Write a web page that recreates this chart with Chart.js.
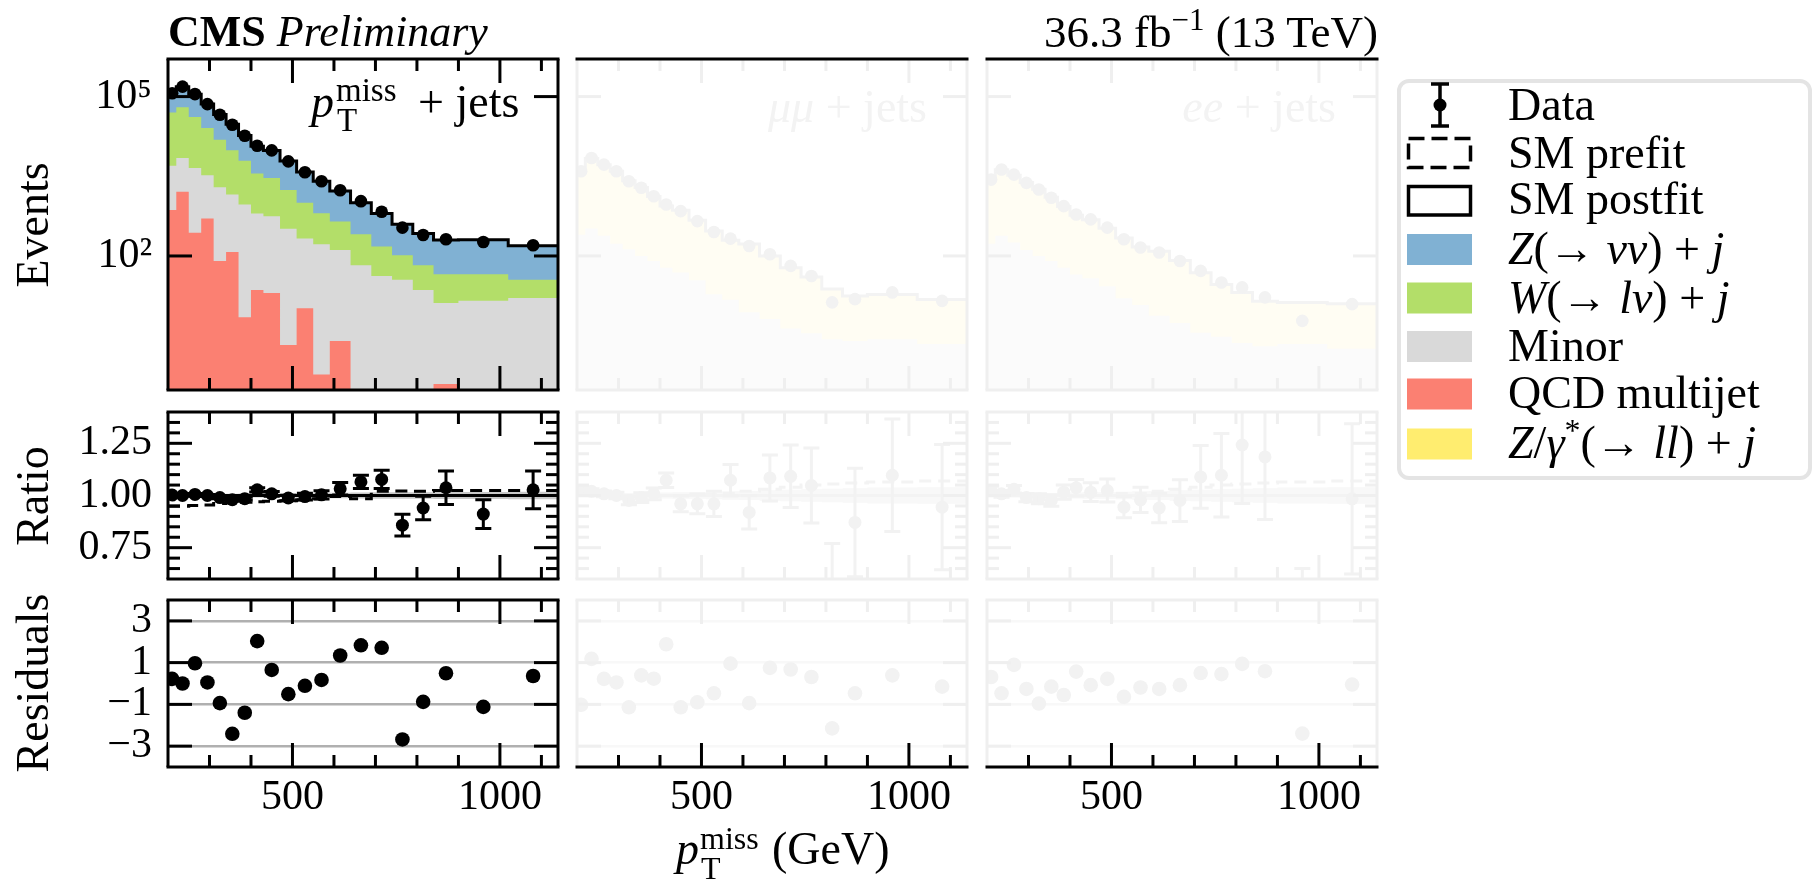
<!DOCTYPE html>
<html>
<head>
<meta charset="utf-8">
<title>pTmiss fit</title>
<script src="https://cdn.jsdelivr.net/npm/chart.js@4.4.1/dist/chart.umd.min.js"></script>
<style>
  html, body { margin: 0; padding: 0; background: #fff; }
  body { position: relative; width: 1818px; height: 884px; overflow: hidden; font-family: 'Liberation Serif', serif; }
  canvas { position: absolute; }
  .t { position: absolute; white-space: nowrap; line-height: 0; color: #000; }
  .v { position: absolute; white-space: nowrap; line-height: 1; transform: translate(-50%, -50%) rotate(-90deg); }
  .up { position: relative; }
  #legend { position: absolute; left: 1397px; top: 79px; width: 415px; height: 401px; box-sizing: border-box;
            border: 4px solid #e4e4e4; border-radius: 12px; background: #fff; }
</style>
</head>
<body>
<div id="legend"></div>
<svg width="1818" height="884" style="position:absolute;left:0;top:0">
  <g stroke="#000" stroke-width="3.5">
    <line x1="1440" y1="84" x2="1440" y2="126"/>
    <line x1="1431" y1="84" x2="1449" y2="84"/>
    <line x1="1431" y1="126" x2="1449" y2="126"/>
  </g>
  <circle cx="1440" cy="105" r="6.5" fill="#000"/>
  <rect x="1408.5" y="138.5" width="62" height="29" fill="none" stroke="#000" stroke-width="3.5" stroke-dasharray="16 7"/>
  <rect x="1408.5" y="186.5" width="62" height="28.5" fill="none" stroke="#000" stroke-width="3.5"/>
  <rect x="1407" y="234" width="65" height="31" fill="#80b1d3"/>
  <rect x="1407" y="282.5" width="65" height="31" fill="#b3de69"/>
  <rect x="1407" y="331" width="65" height="31" fill="#d9d9d9"/>
  <rect x="1407" y="378.5" width="65" height="31" fill="#fb8072"/>
  <rect x="1407" y="428.5" width="65" height="31" fill="#ffed6f"/>
</svg>
<script>
// pTmiss bin edges (GeV)
const edges = [200, 220, 250, 280, 310, 340, 370, 400, 430, 470, 510, 550, 590, 640, 690, 740, 790, 840, 900, 1020, 1140];

// pTmiss + jets region, postfit yields
const qcd    = [730, 1610, 275, 510, 80, 119, 7.0, 23, 20, 2.1, 10.4, 0.59, 2.5, 0, 0, 0, 0, 0.39, 0, 0];
const minor  = [4280, 5390, 4275, 2790, 1890, 1316, 924, 609, 542, 325, 202, 165, 127, 67, 42, 35.5, 23, 12.6, 14.3, 16.1];
const wlnu   = [45100, 56300, 36550, 22250, 13450, 8285, 5300, 2923, 2388, 1416, 791, 474, 318, 188, 108, 67.5, 44, 32.4, 31.1, 19.4];
const znunu  = [65800, 90700, 69900, 46750, 30440, 20380, 12370, 8035, 6690, 4377, 2787, 1910, 1228, 754, 481, 294, 197, 154, 156, 120];
const dataSR = [115900, 154000, 111500, 72100, 45400, 29500, 18300, 11900, 9720, 6040, 3760, 2550, 1730, 1075, 680, 341, 248, 206, 183, 159];
const ratioSR    = [1.002, 1.0, 1.005, 1.0, 0.99, 0.98, 0.985, 1.027, 1.008, 0.988, 0.995, 1.003, 1.032, 1.065, 1.077, 0.858, 0.94, 1.037, 0.911, 1.027];
const ratioErrSR = [0.004, 0.004, 0.004, 0.005, 0.006, 0.007, 0.008, 0.01, 0.011, 0.013, 0.016, 0.02, 0.03, 0.032, 0.044, 0.052, 0.056, 0.08, 0.069, 0.09];
const prefitSR   = [0.948, 0.948, 0.952, 0.955, 0.962, 0.966, 0.968, 0.97, 0.972, 0.975, 0.98, 0.985, 0.995, 0.985, 1.02, 1.022, 1.02, 1.024, 1.024, 1.024];
const bandSR     = [0.008, 0.008, 0.008, 0.008, 0.008, 0.008, 0.009, 0.009, 0.01, 0.01, 0.011, 0.012, 0.013, 0.014, 0.015, 0.016, 0.016, 0.017, 0.017, 0.018];
const residSR    = [0.22, 0.0, 0.97, 0.05, -0.94, -2.41, -1.40, 2.03, 0.65, -0.51, -0.11, 0.17, 1.34, 1.83, 1.71, -2.68, -0.88, 0.49, -1.12, 0.36];

// mumu + jets region
const minorMM    = [250, 330, 240, 170, 134, 100, 80, 60, 49, 35, 19, 15, 8.7, 6.5, 4.3, 3.5, 2.7, 2.5, 2.7, 2.2];
const zllMM      = [3590, 6530, 4960, 3760, 2476, 1840, 1240, 808, 678, 437, 275, 183, 159, 93.5, 55.7, 36.5, 21.3, 15.2, 16.1, 12.9];
const dataMM     = [3930, 7000, 5240, 3930, 2550, 1920, 1330, 931, 698, 453, 282, 212, 154, 108, 65, 42, 13.4, 15.4, 20.6, 14.3];
const ratioMM    = [1.024, 1.02, 1.008, 1.0, 0.976, 0.99, 1.008, 1.073, 0.96, 0.96, 0.96, 1.073, 0.919, 1.084, 1.092, 1.048, 0.55, 0.871, 1.097, 0.944];
const ratioErrMM = [0.016, 0.012, 0.014, 0.016, 0.02, 0.023, 0.028, 0.035, 0.038, 0.047, 0.06, 0.075, 0.08, 0.11, 0.15, 0.18, 0.22, 0.26, 0.27, 0.3];
const prefitMM   = [1.01, 1.01, 1.0, 1.0, 0.995, 0.995, 0.995, 1.0, 1.0, 1.0, 1.005, 1.01, 1.02, 1.03, 1.04, 1.05, 1.055, 1.06, 1.065, 1.07];
const residMM    = [-1.02, 1.18, 0.22, 0.05, -1.14, 0.39, 0.23, 1.88, -1.14, -0.9, -0.47, 0.95, -0.94, 0.75, 0.67, 0.31, -2.15, -0.47, 0.39, -0.15];

// ee + jets region
const minorEE    = [170, 240, 180, 130, 100, 80, 60, 45, 38, 27, 16, 12, 7.5, 5.5, 3.6, 3, 2.3, 2, 2.2, 1.8];
const zllEE      = [2506, 3956, 3120, 2274, 1709, 1196, 792, 538, 442, 306, 202, 135, 115.5, 77, 44.5, 25.9, 18.3, 12, 11.1, 10.8];
const dataEE     = [2740, 4230, 3400, 2380, 1780, 1245, 866, 605, 488, 341, 206, 144, 116, 80.5, 52.4, 31.7, 25.6, 16.6, 6.0, 12.4];
const ratioEE    = [1.024, 1.008, 1.03, 0.99, 0.984, 0.976, 1.016, 1.037, 1.016, 1.024, 0.944, 0.979, 0.94, 0.976, 1.089, 1.097, 1.242, 1.185, 0.45, 0.984];
const ratioErrEE = [0.02, 0.016, 0.018, 0.02, 0.024, 0.028, 0.034, 0.04, 0.045, 0.055, 0.05, 0.06, 0.07, 0.1, 0.15, 0.2, 0.28, 0.3, 0.2, 0.36];
const prefitEE   = [1.0, 1.0, 1.0, 0.995, 0.995, 1.0, 1.0, 1.0, 1.0, 1.0, 1.01, 1.01, 1.02, 1.03, 1.04, 1.05, 1.055, 1.06, 1.065, 1.07];
const residEE    = [0.31, -0.47, 0.89, -0.26, -0.96, -0.15, -0.55, 0.57, -0.08, 0.22, -0.64, -0.19, -0.26, -0.08, 0.5, 0.45, 0.94, 0.59, -2.4, -0.05];
const bandCR     = [0.01, 0.01, 0.01, 0.01, 0.012, 0.012, 0.013, 0.014, 0.015, 0.016, 0.018, 0.02, 0.022, 0.025, 0.028, 0.03, 0.032, 0.035, 0.038, 0.04];

// axis ticks
const xMajor = [500, 1000];
const xMinor = [300, 400, 600, 700, 800, 900, 1100];
const yTopMajor = [100, 100000];
const ratioMajor = [0.75, 1.0, 1.25];
const ratioMinor = [0.65, 0.7, 0.8, 0.85, 0.9, 0.95, 1.05, 1.1, 1.15, 1.2, 1.3, 1.35];
const residMajor = [-3, -1, 1, 3];

Chart.defaults.font.family = "'Liberation Serif', serif";
Chart.defaults.font.size = 42;
Chart.defaults.color = '#000';

const C = {z: '#80b1d3', w: '#b3de69', minor: '#d9d9d9', qcd: '#fb8072', zll: '#ffed6f'};
const FADE = {pt: '#f2f2f2', line: '#f3f3f3', zll: '#fffdf3', minor: '#fbfbfb', band: '#f8f8f8', grid: '#f8f8f8', spine: '#efefef'};

const COL_L = [168, 577, 987], PW = 390;
const ROW_T = [59, 412, 600], ROW_H = [331, 167, 167];
const PADL = 130, PADR = 12, PADT = 12, PADB = 70;

// spines and inward ticks
const framePlugin = {
  id: 'frame',
  afterDraw(chart, args, o) {
    if (!o || !o.side) return;
    const {ctx, chartArea: a} = chart;
    const x = chart.scales.x, y = chart.scales.y;
    ctx.save();
    ctx.lineWidth = 3;
    const seg = (x0, y0, x1, y1, c) => {
      ctx.strokeStyle = c; ctx.beginPath(); ctx.moveTo(x0, y0); ctx.lineTo(x1, y1); ctx.stroke();
    };
    xMajor.map(v => [v, 24]).concat(xMinor.map(v => [v, 12])).forEach(([v, len]) => {
      const p = x.getPixelForValue(v);
      seg(p, a.top, p, a.top + len, o.topTick);
      seg(p, a.bottom, p, a.bottom - len, o.bottomTick);
    });
    const yMin = o.yMinor || [];
    o.yMajor.map(v => [v, 24]).concat(yMin.map(v => [v, 12])).forEach(([v, len]) => {
      const p = y.getPixelForValue(v);
      seg(a.left, p, a.left + len, p, o.side);
      seg(a.right, p, a.right - len, p, o.side);
    });
    seg(a.left, a.top, a.left, a.bottom, o.side);
    seg(a.right, a.top, a.right, a.bottom, o.side);
    seg(a.left - 1.5, a.top, a.right + 1.5, a.top, o.top);
    seg(a.left - 1.5, a.bottom, a.right + 1.5, a.bottom, o.bottom);
    ctx.restore();
  }
};

// vertical error bars with caps
const errPlugin = {
  id: 'errbars',
  afterDatasetsDraw(chart) {
    const {ctx, chartArea: a} = chart;
    const x = chart.scales.x, y = chart.scales.y;
    ctx.save();
    ctx.beginPath(); ctx.rect(a.left, a.top, a.width, a.height); ctx.clip();
    chart.data.datasets.forEach(ds => {
      if (!ds.errs) return;
      ctx.strokeStyle = ds.pointBackgroundColor;
      ctx.lineWidth = 3;
      ds.data.forEach((p, i) => {
        const e = ds.errs[i];
        const px = x.getPixelForValue(p.x);
        const y0 = y.getPixelForValue(p.y - e), y1 = y.getPixelForValue(p.y + e);
        ctx.beginPath();
        ctx.moveTo(px, y0); ctx.lineTo(px, y1);
        ctx.moveTo(px - 8, y0); ctx.lineTo(px + 8, y0);
        ctx.moveTo(px - 8, y1); ctx.lineTo(px + 8, y1);
        ctx.stroke();
      });
    });
    ctx.restore();
  }
};
Chart.register(framePlugin, errPlugin);

const centers = edges.slice(0, -1).map((e, i) => (e + edges[i + 1]) / 2);
const pts = vals => vals.map((v, i) => ({x: centers[i], y: v}));
const hist = vals => edges.map((e, i) => ({x: e, y: vals[Math.min(i, vals.length - 1)]}));
const addUp = (...arrs) => arrs[0].map((_, i) => arrs.reduce((s, a) => s + a[i], 0));
const logSafe = vals => vals.map(v => v > 0 ? v : 1e-3);

function fillDs(vals, color) {
  return {data: hist(logSafe(vals)), stepped: true, fill: 'start', backgroundColor: color,
          borderColor: 'transparent', borderWidth: 0, pointRadius: 0};
}
function lineDs(vals, color, dash) {
  return {data: hist(vals), stepped: true, fill: false, borderColor: color, borderWidth: 3,
          borderDash: dash || [], pointRadius: 0};
}
function refLine(color) {
  return {data: [{x: edges[0], y: 1}, {x: edges[edges.length - 1], y: 1}], fill: false,
          borderColor: color, borderWidth: 3, pointRadius: 0};
}
function dotDs(vals, color, r, errs) {
  return {data: pts(vals), showLine: false, pointRadius: r, pointBackgroundColor: color,
          pointBorderWidth: 0, borderColor: color, errs};
}
function bandDs(half, color) {
  return [
    {data: hist(half.map(b => 1 - b)), stepped: true, fill: false, borderColor: 'transparent', borderWidth: 0, pointRadius: 0},
    {data: hist(half.map(b => 1 + b)), stepped: true, fill: '-1', backgroundColor: color, borderColor: 'transparent', borderWidth: 0, pointRadius: 0}
  ];
}

function panel(col, row, datasets, frame, gridColor) {
  const cv = document.createElement('canvas');
  cv.width = PW + PADL + PADR;
  cv.height = ROW_H[row] + PADT + PADB;
  cv.style.left = (COL_L[col] - PADL) + 'px';
  cv.style.top = (ROW_T[row] - PADT) + 'px';
  document.body.appendChild(cv);

  const yScale = row === 0 ? {type: 'logarithmic', min: 0.316, max: 5.1e5}
               : row === 1 ? {type: 'linear', min: 0.6, max: 1.4}
               : {type: 'linear', min: -4, max: 4};
  const yTicks = row === 0 ? yTopMajor : row === 1 ? ratioMajor : residMajor;
  const yLabel = row === 0 ? (v => v === 100000 ? '10\u2075' : '10\u00b2')
               : row === 1 ? (v => v.toFixed(2))
               : (v => v < 0 ? '\u2212' + Math.abs(v) : String(v));
  frame.yMajor = yTicks;
  frame.yMinor = row === 1 ? ratioMinor : [];

  return new Chart(cv, {
    type: 'line',
    data: {datasets},
    options: {
      responsive: false, animation: false, devicePixelRatio: 1, events: [],
      layout: {padding: {left: 0, right: PADR, top: PADT, bottom: 0}},
      plugins: {legend: {display: false}, tooltip: {enabled: false}, frame},
      scales: {
        x: {
          type: 'linear', min: edges[0], max: edges[edges.length - 1],
          border: {display: false}, grid: {display: false, drawTicks: false},
          afterBuildTicks: s => { s.ticks = xMajor.map(v => ({value: v})); },
          afterFit: s => { s.height = PADB; s.paddingLeft = 0; s.paddingRight = 0; },
          ticks: {display: row === 2, padding: 6, maxRotation: 0, autoSkip: false, callback: v => String(v)}
        },
        y: Object.assign(yScale, {
          border: {display: false},
          grid: {display: row === 2, drawTicks: false, color: gridColor || '#b0b0b0', lineWidth: 2.5},
          afterBuildTicks: s => { s.ticks = yTicks.map(v => ({value: v})); },
          afterFit: s => { s.width = PADL; s.paddingTop = 0; s.paddingBottom = 0; },
          ticks: {display: col === 0, padding: 16, autoSkip: false, callback: yLabel}
        })
      }
    }
  });
}

const FULL = () => ({side: '#000', top: '#000', bottom: '#000', topTick: '#000', bottomTick: '#000'});
const F_TOP = () => ({side: FADE.spine, top: '#000', bottom: FADE.spine, topTick: FADE.spine, bottomTick: FADE.spine});
const F_MID = () => ({side: FADE.spine, top: FADE.spine, bottom: FADE.spine, topTick: FADE.spine, bottomTick: FADE.spine});
const F_BOT = () => ({side: FADE.spine, top: FADE.spine, bottom: '#000', topTick: FADE.spine, bottomTick: '#000'});

// pTmiss + jets column
const cumMinor = addUp(qcd, minor);
const cumW = addUp(qcd, minor, wlnu);
const cumZ = addUp(qcd, minor, wlnu, znunu);
panel(0, 0, [
  dotDs(dataSR, '#000', 6.3),
  lineDs(cumZ, '#000'),
  fillDs(qcd, C.qcd),
  fillDs(cumMinor, C.minor),
  fillDs(cumW, C.w),
  fillDs(cumZ, C.z)
], FULL());
panel(0, 1, [
  dotDs(ratioSR, '#000', 6.5, ratioErrSR),
  lineDs(prefitSR, '#000', [12, 7]),
  refLine('#000'),
  ...bandDs(bandSR, '#c8c8c8')
], FULL());
panel(0, 2, [dotDs(residSR, '#000', 7.3)], FULL(), '#b0b0b0');

// mumu + jets and ee + jets columns (faded)
[[1, minorMM, zllMM, dataMM, ratioMM, ratioErrMM, prefitMM, residMM],
 [2, minorEE, zllEE, dataEE, ratioEE, ratioErrEE, prefitEE, residEE]].forEach(([col, mn, zl, dt, rt, re, pf, rs]) => {
  const cum = addUp(mn, zl);
  panel(col, 0, [
    dotDs(dt, FADE.pt, 6.3),
    lineDs(cum, FADE.line),
    fillDs(mn, FADE.minor),
    fillDs(cum, FADE.zll)
  ], F_TOP());
  panel(col, 1, [
    dotDs(rt, FADE.pt, 6.5, re),
    lineDs(pf, FADE.line, [12, 7]),
    refLine(FADE.line),
    ...bandDs(bandCR, FADE.band)
  ], F_MID());
  panel(col, 2, [dotDs(rs, FADE.pt, 7.3)], F_BOT(), FADE.grid);
});

// text
function txt(html, x, base, size, align, color) {
  const d = document.createElement('div');
  d.className = 't';
  d.innerHTML = html;
  d.style.fontSize = size + 'px';
  d.style.left = x + 'px';
  d.style.top = (base - 0.3375 * size) + 'px';
  if (color) d.style.color = color;
  if (align === 'right') d.style.transform = 'translateX(-100%)';
  if (align === 'center') d.style.transform = 'translateX(-50%)';
  document.body.appendChild(d);
}
function vtxt(text, cx, cy, size) {
  const d = document.createElement('div');
  d.className = 'v';
  d.textContent = text;
  d.style.fontSize = size + 'px';
  d.style.left = cx + 'px';
  d.style.top = cy + 'px';
  document.body.appendChild(d);
}

txt('<b>CMS</b> <i>Preliminary</i>', 168, 47, 44);
txt('36.3 fb<span class="up" style="font-size:31px;top:-17px">\u22121</span> (13 TeV)', 1378, 47, 45, 'right');

txt('<i>p</i>', 311, 118, 46);
txt('miss', 336, 101.5, 33);
txt('T', 337, 131.5, 33);
txt('+ jets', 418, 118, 46);
txt('<i>\u03bc\u03bc</i> + jets', 927, 123, 46, 'right', '#f3f3f3');
txt('<i>ee</i> + jets', 1336, 123, 46, 'right', '#f3f3f3');

txt('<i>p</i>', 676, 865, 46);
txt('miss', 700, 849, 32);
txt('T', 701, 879, 32);
txt('(GeV)', 772, 865, 46);

vtxt('Events', 33, 225, 46);
vtxt('Ratio', 33, 496, 46);
vtxt('Residuals', 33, 683, 46);

const legendRows = [
  ['Data', 120.7],
  ['SM prefit', 168.3],
  ['SM postfit', 215],
  ['<i>Z</i>(\u2192 <i>\u03bd\u03bd</i>) + <i>j</i>', 265],
  ['<i>W</i>(\u2192 <i>l\u03bd</i>) + <i>j</i>', 313.3],
  ['Minor', 361.7],
  ['QCD multijet', 408.3],
  ['<i>Z</i>/<i>\u03b3</i><span class="up" style="font-size:32px;top:-17px">*</span>(\u2192 <i>ll</i>) + <i>j</i>', 458.3]
];
legendRows.forEach(([html, base]) => txt(html, 1508, base, 46));
</script>
</body>
</html>
